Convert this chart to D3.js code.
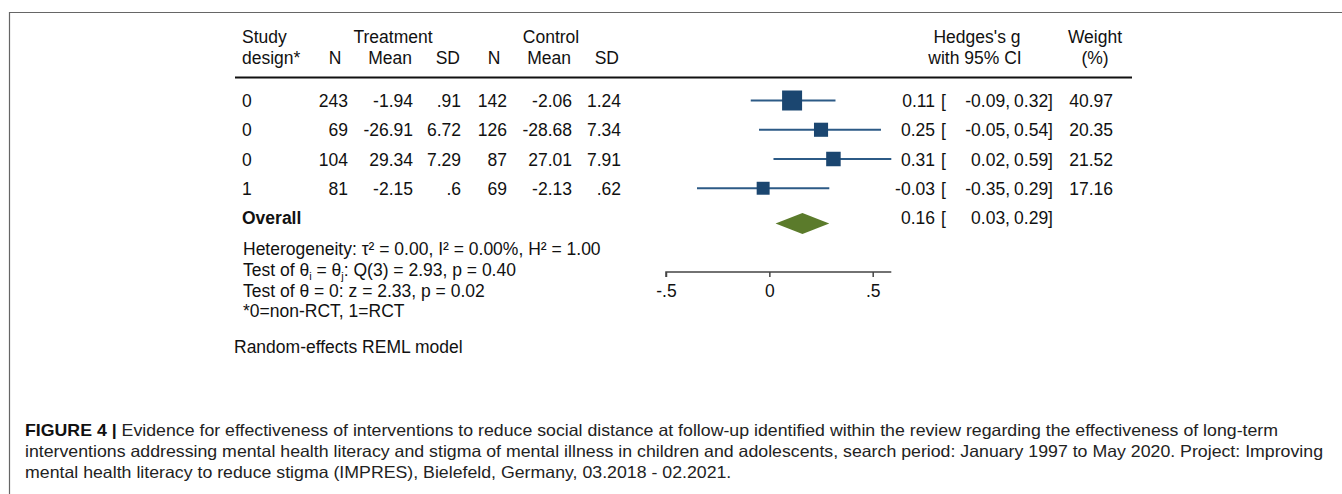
<!DOCTYPE html>
<html>
<head>
<meta charset="utf-8">
<script src="https://cdn.jsdelivr.net/npm/d3@7/dist/d3.min.js"></script>
<style>
  html, body { margin: 0; padding: 0; background: #fff; }
  svg { display: block; }
  .t { font-family: Arial, "Liberation Sans", sans-serif; font-size: 17.5px; fill: #111; }
  .cap { font-family: Arial, "Liberation Sans", sans-serif; font-size: 16.5px; fill: #222; }
</style>
</head>
<body>
<svg id="chart" width="1342" height="494"></svg>
<script>
// Study-level data (social distance at follow-up)
const design   = ["0", "0", "0", "1"];
const trtN     = [243, 69, 104, 81];
const trtMean  = [-1.94, -26.91, 29.34, -2.15];
const trtSD    = [0.91, 6.72, 7.29, 0.6];
const ctlN     = [142, 126, 87, 69];
const ctlMean  = [-2.06, -28.68, 27.01, -2.13];
const ctlSD    = [1.24, 7.34, 7.91, 0.62];
const hedgesG  = [0.11, 0.25, 0.31, -0.03];
const ciLow    = [-0.09, -0.05, 0.02, -0.35];
const ciHigh   = [0.32, 0.54, 0.59, 0.29];
const weights  = [40.97, 20.35, 21.52, 17.16];

// Pooled random-effects estimate
const overallG    = 0.16;
const overallLow  = 0.03;
const overallHigh = 0.29;

const axisTicks = [-0.5, 0, 0.5];
const footLines = [
  "Heterogeneity: τ² = 0.00, I² = 0.00%, H² = 1.00",
  "Test of θ = 0: z = 2.33, p = 0.02",
  "*0=non-RCT, 1=RCT"
];
const captionLines = [
  "Evidence for effectiveness of interventions to reduce social distance at follow-up identified within the review regarding the effectiveness of long-term",
  "interventions addressing mental health literacy and stigma of mental illness in children and adolescents, search period: January 1997 to May 2020. Project: Improving",
  "mental health literacy to reduce stigma (IMPRES), Bielefeld, Germany, 03.2018 - 02.2021."
];

const svg = d3.select("#chart");

// Stata-style number display: plain hyphen minus, no leading zero (.91, .6)
const stataNum = v => String(v).replace(/^(-?)0\./, "$1.");
const f2 = v => d3.format(".2f")(v).replace("−", "-");

// Frame lines
svg.append("line").attr("x1", 9).attr("x2", 1342).attr("y1", 12.5).attr("y2", 12.5)
  .attr("stroke", "#666").attr("stroke-width", 1.2);
svg.append("line").attr("x1", 9.5).attr("x2", 9.5).attr("y1", 12).attr("y2", 494)
  .attr("stroke", "#666").attr("stroke-width", 1.2);

// Effect-size scale
const unit = 206.7;
const x = d3.scaleLinear()
  .domain([axisTicks[0], d3.max(ciHigh)])
  .range([666, 666 + unit * (d3.max(ciHigh) - axisTicks[0])]);

// Row positions
const rowY = d3.scalePoint().domain(d3.range(5)).range([100.5, 217.5]);
const overallRow = 4;

const text = (g, s, xx, yy, anchor) =>
  g.append("text").attr("class", "t").attr("x", xx).attr("y", yy)
    .attr("text-anchor", anchor || "start").text(s);

// Header
const hdr = svg.append("g");
text(hdr, "Study", 242, 43);
text(hdr, "design*", 242, 64);
text(hdr, "Treatment", 393, 43, "middle");
text(hdr, "Control", 551, 43, "middle");
text(hdr, "N", 335, 64, "middle");
text(hdr, "Mean", 412, 64, "end");
text(hdr, "SD", 460, 64, "end");
text(hdr, "N", 494, 64, "middle");
text(hdr, "Mean", 571, 64, "end");
text(hdr, "SD", 619, 64, "end");
text(hdr, "Hedges's g", 977, 43, "middle");
text(hdr, "with 95% CI", 975, 64, "middle");
text(hdr, "Weight", 1095, 43, "middle");
text(hdr, "(%)", 1095, 64, "middle");

svg.append("line").attr("x1", 235).attr("x2", 1132).attr("y1", 77.5).attr("y2", 77.5)
  .attr("stroke", "#111").attr("stroke-width", 2);

// Study rows
const rows = svg.append("g");
design.forEach((d, i) => {
  const yb = rowY(i) + 6.5;
  text(rows, d, 242, yb);
  text(rows, trtN[i], 348, yb, "end");
  text(rows, stataNum(trtMean[i]), 413, yb, "end");
  text(rows, stataNum(trtSD[i]), 461, yb, "end");
  text(rows, ctlN[i], 507, yb, "end");
  text(rows, stataNum(ctlMean[i]), 572, yb, "end");
  text(rows, stataNum(ctlSD[i]), 621, yb, "end");
  text(rows, f2(hedgesG[i]), 935, yb, "end");
  text(rows, "[", 941, yb);
  text(rows, f2(ciLow[i]) + ",", 1010, yb, "end");
  text(rows, f2(ciHigh[i]) + "]", 1053, yb, "end");
  text(rows, f2(weights[i]), 1113, yb, "end");
});

// Overall row
const yo = rowY(overallRow) + 6.5;
text(rows, "Overall", 242, yo).attr("font-weight", "bold");
text(rows, f2(overallG), 935, yo, "end");
text(rows, "[", 941, yo);
text(rows, f2(overallLow) + ",", 1010, yo, "end");
text(rows, f2(overallHigh) + "]", 1053, yo, "end");

// Confidence intervals and weighted squares
const maxW = d3.max(weights);
const side = d3.scaleSqrt().domain([0, maxW]).range([0, 20]);
const marks = svg.append("g");
hedgesG.forEach((g, i) => {
  marks.append("line")
    .attr("x1", x(ciLow[i])).attr("x2", x(ciHigh[i]))
    .attr("y1", rowY(i)).attr("y2", rowY(i))
    .attr("stroke", "#2c5a86").attr("stroke-width", 2);
  const s = side(weights[i]);
  marks.append("rect")
    .attr("x", x(g) - s / 2).attr("y", rowY(i) - s / 2)
    .attr("width", s).attr("height", s)
    .attr("fill", "#1b4670");
});

// Pooled diamond
const dy = rowY(overallRow) + 6;
marks.append("path")
  .attr("d", `M${x(overallLow)},${dy} L${x(overallG)},${dy - 10.5} L${x(overallHigh)},${dy} L${x(overallG)},${dy + 10.5} Z`)
  .attr("fill", "#5b7b2b");

// Axis
const axis = d3.axisBottom(x)
  .tickValues(axisTicks)
  .tickSize(5)
  .tickPadding(8)
  .tickFormat(v => v === 0 ? "0" : stataNum(v));
const ax = svg.append("g").attr("transform", "translate(0,272)").call(axis);
ax.select(".domain").attr("stroke", "#444").attr("stroke-width", 1.5).attr("d", `M${x.range()[0]},5V0H${x.range()[1]}`);
ax.selectAll(".tick line").attr("stroke", "#444").attr("stroke-width", 1.5);
ax.selectAll(".tick text").attr("class", "t").attr("font-size", null).attr("font-family", null).attr("fill", "#111");

// Footnotes
const foot = svg.append("g");
text(foot, footLines[0], 243, 255);
const q = foot.append("text").attr("class", "t").attr("x", 243).attr("y", 276);
q.append("tspan").text("Test of θ");
q.append("tspan").attr("font-size", 11).attr("dy", 4).text("i");
q.append("tspan").attr("dy", -4).text(" = θ");
q.append("tspan").attr("font-size", 11).attr("dy", 4).text("j");
q.append("tspan").attr("dy", -4).text(": Q(3) = 2.93, p = 0.40");
text(foot, footLines[1], 243, 297);
text(foot, footLines[2], 243, 317);
text(foot, "Random-effects REML model", 234, 353);

// Caption, set in a horizontally condensed face
const cap = svg.append("g");
const capNodes = captionLines.map((line, i) => {
  const t = cap.append("text").attr("class", "cap").attr("x", 25).attr("y", 436 + 21 * i);
  if (i === 0) {
    t.append("tspan").attr("font-weight", "bold").attr("fill", "#111").text("FIGURE 4 | ");
  }
  t.append("tspan").text(line);
  return t;
});
const squeeze = 1298 / capNodes[1].node().getComputedTextLength();
capNodes.forEach(t => {
  const w = t.node().getComputedTextLength();
  t.attr("textLength", w * squeeze).attr("lengthAdjust", "spacingAndGlyphs");
});
</script>
</body>
</html>
